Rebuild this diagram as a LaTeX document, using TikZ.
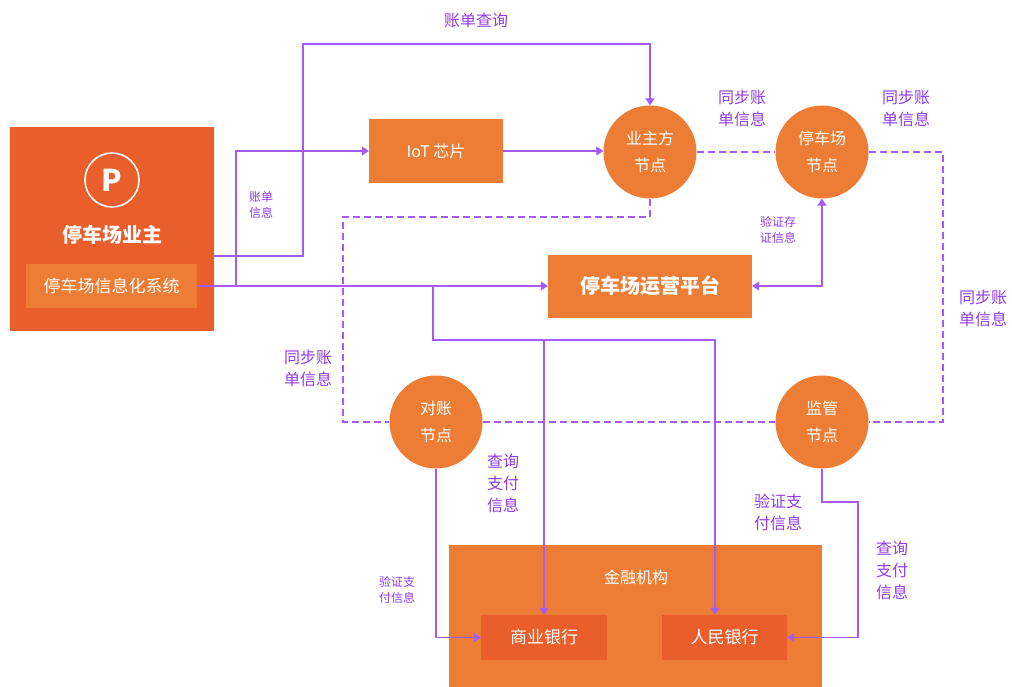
\documentclass[tikz,border=0pt]{standalone}
\usepackage{fontspec}
\setmainfont{Noto Sans CJK SC}
\usetikzlibrary{arrows.meta}
\definecolor{deep}{RGB}{233,94,43}
\definecolor{warm}{RGB}{237,125,52}
\definecolor{wire}{RGB}{165,90,250}
\definecolor{ink}{RGB}{145,60,235}
\begin{document}
\begin{tikzpicture}[x=1pt,y=-1pt,
    box/.style = {fill=warm, text=white, inner sep=0pt},
    peer/.style = {circle, fill=warm, text=white, minimum size=93pt, inner sep=0pt, align=center, font=\fontsize{16}{27}\selectfont},
    flow/.style = {draw=wire, line width=1.3pt, -{Triangle[width=9pt,length=7pt]}},
    sync/.style = {draw=wire, line width=1.3pt, dash pattern=on 7pt off 4pt},
    tag/.style = {text=ink, align=left, font=\fontsize{16}{22}\selectfont},
    small/.style = {text=ink, align=left, font=\fontsize{12}{16}\selectfont}]
        \useasboundingbox (0,0) rectangle (1012,687);
        % owner
        \node[fill=deep, minimum width=204pt, minimum height=204pt, inner sep=0pt] (owner) at (112,229) {};
        \node[circle, draw=white, line width=1.6pt, minimum size=54pt, inner sep=0pt, text=white, font=\fontsize{30}{30}\selectfont\bfseries] (p) at (112,180) {P};
        \node[text=white, font=\fontsize{20}{20}\selectfont\bfseries] (ownername) at (112,235) {停车场业主};
        \node[box, minimum width=171pt, minimum height=44pt, font=\fontsize{17}{17}\selectfont] (sys) at (111.5,286) {停车场信息化系统};
        % boxes
        \node[box, minimum width=134pt, minimum height=64pt, font=\fontsize{16}{16}\selectfont] (iot) at (436,151) {IoT 芯片};
        \node[box, minimum width=204pt, minimum height=63pt, font=\fontsize{20}{20}\selectfont\bfseries] (plat) at (650,286) {停车场运营平台};
        \node[box, minimum width=373pt, minimum height=142pt] (fin) at (635.5,616) {};
        \node[text=white, font=\fontsize{16}{16}\selectfont] (fintitle) at (636,577) {金融机构};
        \node[box, fill=deep, minimum width=126pt, minimum height=45pt, font=\fontsize{17}{17}\selectfont] (cb) at (544,637.5) {商业银行};
        \node[box, fill=deep, minimum width=125pt, minimum height=45pt, font=\fontsize{17}{17}\selectfont] (pbc) at (724.5,637.5) {人民银行};
        % nodes
        \node[peer] (hub) at (650,152) {业主方\\节点};
        \node[peer] (lot) at (822,152) {停车场\\节点};
        \node[peer] (audit) at (436,422) {对账\\节点};
        \node[peer] (reg) at (822,422) {监管\\节点};
        % junctions
        \coordinate (split) at (236,286);
        \coordinate (drop) at (433,286);
        \coordinate (bus) at (544,340);
        % solid connectors
        \draw[flow] (owner.east |- 0,256) -| (303,44) -| (hub.north);
        \draw[flow] (sys.east) -- (plat.west);
        \draw[flow] (split) |- (iot.west);
        \draw[flow] (iot.east) -- (iot.east -| hub.west);
        \draw[flow] (drop) |- (715,340) -- (pbc.north -| 715,0);
        \draw[flow] (bus) -- (cb.north);
        \draw[flow, {Triangle[width=9pt,length=7pt]}-{Triangle[width=9pt,length=7pt]}] (lot.south) |- (plat.east);
        \draw[flow] (audit.south) |- (cb.west);
        \draw[flow] (reg.south) |- (858,502) |- (pbc.east);
        % dashed connectors
        \draw[sync] (hub.east) -- (lot.west);
        \draw[sync] (lot.east) -| (943,422) -- (reg.east);
        \draw[sync] (hub.south) |- (343,217) |- (audit.west);
        \draw[sync] (audit.east) -- (reg.west);
        % labels
        \node[tag] (q1) at (476,20) {账单查询};
        \node[small] (b1) at (261,205) {账单\\信息};
        \node[tag] (s1) at (742,108) {同步账\\单信息};
        \node[tag] (s2) at (906,108) {同步账\\单信息};
        \node[tag] (s3) at (983,308) {同步账\\单信息};
        \node[tag] (s4) at (308,368) {同步账\\单信息};
        \node[small] (v1) at (778,230) {验证存\\证信息};
        \node[tag] (q2) at (503,483) {查询\\支付\\信息};
        \node[tag] (v2) at (778,512) {验证支\\付信息};
        \node[tag] (q3) at (892,570) {查询\\支付\\信息};
        \node[small] (v3) at (397,590) {验证支\\付信息};
\end{tikzpicture}
\end{document}
